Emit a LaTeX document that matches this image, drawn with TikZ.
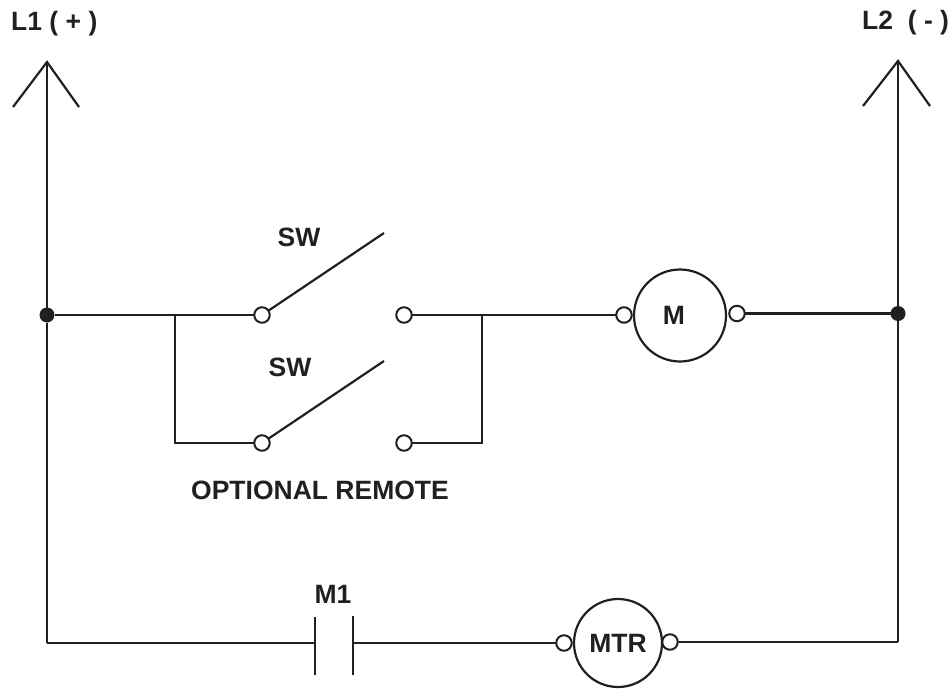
\documentclass[tikz,border=0pt]{standalone}
\usepackage{fontspec}
\setmainfont{Liberation Sans}
\usetikzlibrary{positioning}
\definecolor{inkblack}{RGB}{35,31,32}
\tikzset{
    wire/.style={line width=2.2pt, inkblack},
    terminal/.style={draw=inkblack, circle, fill=white, line width=2pt, inner sep=0pt, outer sep=0pt, minimum size=15.5pt},
    junction/.style={circle, fill=inkblack, inner sep=0pt, outer sep=0pt, minimum size=15pt},
    motor/.style={draw=inkblack, circle, line width=2.2pt, inner sep=0pt, outer sep=0pt, text=inkblack, font=\fontsize{26.5}{29}\selectfont\bfseries},
    tag/.style={text=inkblack, font=\fontsize{26.5}{29}\selectfont\bfseries, inner sep=0pt}
}

\begin{document}
\begin{tikzpicture}[x=1pt, y=-1pt]
            \useasboundingbox (0,0) rectangle (950,688);
            % rails
            \coordinate (l1top) at (47,62);
            \coordinate (l2top) at (898,61);
            \coordinate (l1base) at (47,643);
            \coordinate (l2base) at (898,642);
            \coordinate (l1left) at (13,107);
            \coordinate (l1right) at (79,107);
            \coordinate (l2left) at (863,106);
            \coordinate (l2right) at (930,106);
            \node[junction] (jl) at (47,315) {};
            \node[junction] (jr) at (898,313.5) {};
            \draw[wire] (l1base) -- (jl) -- (l1top);
            \draw[wire] (l2base) -- (jr) -- (l2top);
            \draw[wire] (l1left) -- (l1top) -- (l1right);
            \draw[wire] (l2left) -- (l2top) -- (l2right);
            \node[tag, anchor=west] at (11,24) {L1 ( + )};
            \node[tag, anchor=west] at (862,23) {L2\ \ ( - )};
            % top rung
            \coordinate (a) at (175,315);
            \coordinate (b) at (482,315);
            \coordinate (c) at (175,443);
            \coordinate (d) at (482,443);
            \coordinate (bladea) at (384,233);
            \coordinate (bladeb) at (384,361);
            \node[terminal] (s1) at (262,315) {};
            \node[terminal] (s2) at (404,315) {};
            \node[terminal] (s3) at (262,443) {};
            \node[terminal] (s4) at (404,443) {};
            \node[motor, minimum size=92pt] (m) at (680,315.5) {};
            \node[tag] at (674,315) {M};
            \node[terminal] (m1) at (624,315) {};
            \node[terminal] (m2) at (737,313.5) {};
            \draw[wire] (jl) -- (s1);
            \draw[wire] (s2) -- (m1);
            \draw[wire] (m2) -- (jr);
            \draw[wire] (a) -- (c) -- (s3);
            \draw[wire] (b) -- (d) -- (s4);
            \draw[wire] (s1) -- (bladea);
            \draw[wire] (s3) -- (bladeb);
            \node[tag] at (299,237) {SW};
            \node[tag] at (290,367) {SW};
            \node[tag] at (320,490) {OPTIONAL REMOTE};
            % bottom rung
            \coordinate (p1) at (315,617);
            \coordinate (p2) at (315,675);
            \coordinate (q1) at (353,616);
            \coordinate (q2) at (353,675);
            \coordinate (pm) at (315,643);
            \coordinate (qm) at (353,643);
            \node[motor, minimum size=88pt] (mtr) at (618,643) {MTR};
            \node[terminal] (t1) at (564,643) {};
            \node[terminal] (t2) at (670,642) {};
            \draw[wire] (l1base) -- (pm);
            \draw[wire] (p1) -- (p2);
            \draw[wire] (q1) -- (q2);
            \draw[wire] (qm) -- (t1);
            \draw[wire] (t2) -- (l2base);
            \node[tag, above=13pt of p1, xshift=18pt] {M1};
        \end{tikzpicture}
\end{document}
